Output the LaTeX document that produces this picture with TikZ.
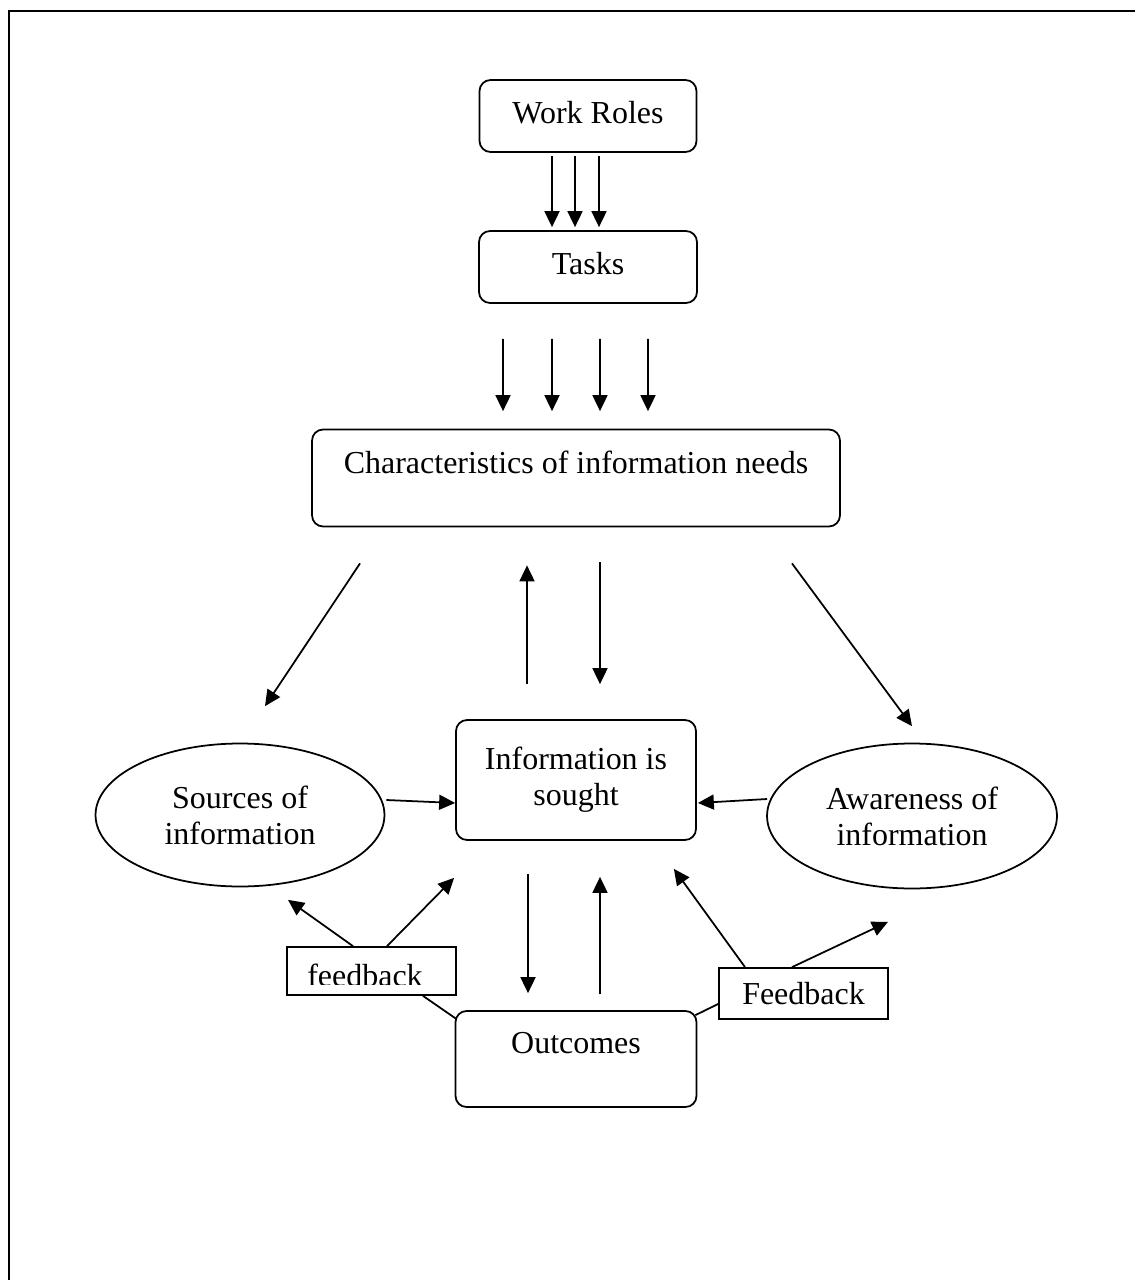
\documentclass[tikz,border=0pt]{standalone}
\usepackage{fontspec}
\setmainfont{Liberation Serif}
\usetikzlibrary{shapes.geometric, arrows.meta, positioning}
\tikzstyle{roundbox} = [rectangle, rounded corners=0.22cm, 
align=center, 
inner sep=0pt, 
line width=1pt, 
draw=black]
\tikzstyle{oval} = [ellipse, 
align=center, 
inner sep=0pt, 
line width=1pt, 
draw=black]
\tikzstyle{fbbox} = [rectangle, 
minimum width=3.38cm, 
inner sep=0pt, 
line width=1pt, 
draw=black]
\tikzstyle{arrow} = [line width=1pt,-{Triangle[length=0.32cm,width=0.3cm]}]
\tikzstyle{plainline} = [line width=1pt]

\begin{document}
\begin{tikzpicture}[x=0.02cm, y=-0.02cm, font=\fontsize{18.2}{20.5}\selectfont]
        \useasboundingbox (0,0) rectangle (1135,1280);
        \draw [line width=1.3pt] (9,1280) -- (9,11) -- (1135,11);

        \node (roles) [roundbox, minimum width=4.34cm, minimum height=1.44cm, text depth=0.15cm] at (588,116) {Work Roles};
        \node (tasks) [roundbox, minimum width=4.36cm, minimum height=1.44cm, text depth=0.15cm] at (588,267) {Tasks};
        \node (needs) [roundbox, minimum width=10.56cm, minimum height=1.94cm, text depth=0.64cm] at (576,478) {Characteristics of information needs};
        \node (sought) [roundbox, minimum width=4.8cm, minimum height=2.4cm] at (576,780) {Information is\\sought};
        \node (outcomes) [roundbox, minimum width=4.82cm, minimum height=1.92cm, text depth=0.66cm] at (576,1059) {Outcomes};
        \node (sources) [oval, minimum width=5.78cm, minimum height=2.86cm] at (240,815) {Sources of\\information};
        \node (aware) [oval, minimum width=5.8cm, minimum height=2.9cm] at (912,816) {Awareness of\\information};
        \node (fbl) [fbbox, minimum height=0.96cm] at (371.5,971) {};
        \node (fbr) [fbbox, minimum height=1.02cm] at (803.5,993.5) {Feedback};

        \begin{scope}
            \clip ([yshift=0.22cm]fbl.south west) rectangle (fbl.north east);
            \node (fbltext) [anchor=base] at (365,986) {feedback};
        \end{scope}

        \draw [arrow] ([xshift=-0.72cm,yshift=-0.06cm]roles.south) -- ([xshift=-0.72cm,yshift=0.06cm]tasks.north);
        \draw [arrow] ([xshift=-0.26cm,yshift=-0.06cm]roles.south) -- ([xshift=-0.26cm,yshift=0.06cm]tasks.north);
        \draw [arrow] ([xshift=0.22cm,yshift=-0.06cm]roles.south) -- ([xshift=0.22cm,yshift=0.06cm]tasks.north);

        \draw [arrow] ([xshift=-1.7cm,yshift=-0.7cm]tasks.south) -- ([xshift=-1.46cm,yshift=0.35cm]needs.north);
        \draw [arrow] ([xshift=-0.72cm,yshift=-0.7cm]tasks.south) -- ([xshift=-0.48cm,yshift=0.35cm]needs.north);
        \draw [arrow] ([xshift=0.24cm,yshift=-0.7cm]tasks.south) -- ([xshift=0.48cm,yshift=0.35cm]needs.north);
        \draw [arrow] ([xshift=1.2cm,yshift=-0.7cm]tasks.south) -- ([xshift=1.44cm,yshift=0.35cm]needs.north);

        \draw [arrow] ([xshift=-4.32cm,yshift=-0.72cm]needs.south) -- ([xshift=0.5cm,yshift=0.73cm]sources.north);
        \draw [arrow] ([xshift=-0.98cm,yshift=0.7cm]sought.north) -- ([xshift=-0.98cm,yshift=-0.76cm]needs.south);
        \draw [arrow] ([xshift=0.48cm,yshift=-0.7cm]needs.south) -- ([xshift=0.48cm,yshift=0.7cm]sought.north);
        \draw [arrow] ([xshift=4.32cm,yshift=-0.72cm]needs.south) -- ([yshift=0.33cm]aware.north);

        \draw [arrow] ([xshift=0.02cm,yshift=0.3cm]sources.east) -- ([yshift=-0.46cm]sought.west);
        \draw [arrow] ([xshift=0.02cm,yshift=0.34cm]aware.west) -- ([xshift=0.02cm,yshift=-0.46cm]sought.east);

        \draw [arrow] ([xshift=-0.96cm,yshift=-0.66cm]sought.south) -- ([xshift=-0.96cm,yshift=0.34cm]outcomes.north);
        \draw [arrow] ([xshift=0.48cm,yshift=0.32cm]outcomes.north) -- ([xshift=0.48cm,yshift=-0.72cm]sought.south);

        \draw [arrow] ([xshift=-0.37cm]fbl.north) -- ([xshift=0.96cm,yshift=-0.25cm]sources.south);
        \draw [arrow] ([xshift=0.31cm]fbl.north) -- ([xshift=-0.02cm,yshift=-0.74cm]sought.south west);
        \draw [plainline] ([xshift=1.03cm]fbl.south) -- ([xshift=0.04cm,yshift=-0.18cm]outcomes.north west);

        \draw [arrow] ([xshift=-1.17cm]fbr.north) -- ([xshift=-0.46cm,yshift=-0.56cm]sought.south east);
        \draw [arrow] ([xshift=-0.23cm]fbr.north) -- ([xshift=-0.48cm,yshift=-0.65cm]aware.south);
        \draw [plainline] ([yshift=-0.21cm]fbr.west) -- ([xshift=-0.04cm,yshift=-0.1cm]outcomes.north east);

    \end{tikzpicture}
\end{document}
